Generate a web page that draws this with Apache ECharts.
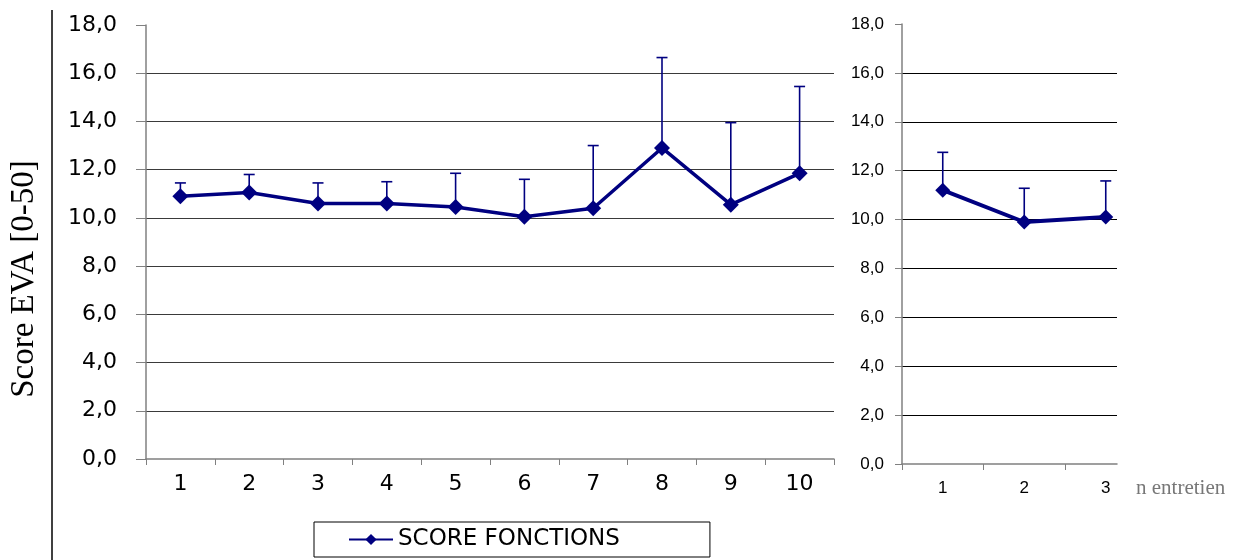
<!DOCTYPE html>
<html>
<head>
<meta charset="utf-8">
<script src="https://cdn.jsdelivr.net/npm/echarts@6/dist/echarts.min.js"></script>
<style>html,body{margin:0;padding:0;background:#fff}#c{width:1240px;height:560px}</style>
</head>
<body>
<div id="c"></div>
<script>
// ---- data ----
const cats1 = ['1','2','3','4','5','6','7','8','9','10'];
const mean1 = [10.9, 11.05, 10.6, 10.6, 10.45, 10.05, 10.4, 12.9, 10.55, 11.85];
const upper1 = [11.45, 11.8, 11.45, 11.5, 11.85, 11.6, 13.0, 16.65, 13.95, 15.45];
const cats2 = ['1','2','3'];
const mean2 = [11.2, 9.9, 10.1];
const upper2 = [12.75, 11.28, 11.58];
const yTicks = [0, 2, 4, 6, 8, 10, 12, 14, 16, 18];
const seriesName = 'SCORE FONCTIONS';
const yTitle = 'Score EVA [0-50]';
const xTitle = 'n entretien';

const NAVY = '#000080';
const fmt = v => v.toFixed(1).replace('.', ',');

const chart = echarts.init(document.getElementById('c'), null, {renderer: 'canvas'});

function errBar(capHalf) {
  return function (params, api) {
    const x = api.value(0);
    const p0 = api.coord([x, api.value(1)]);
    const p1 = api.coord([x, api.value(2)]);
    const st = {stroke: NAVY, lineWidth: 1.6};
    return {type: 'group', children: [
      {type: 'line', shape: {x1: p0[0], y1: p0[1], x2: p1[0], y2: p1[1]}, style: st},
      {type: 'line', shape: {x1: p1[0] - capHalf, y1: p1[1], x2: p1[0] + capHalf, y2: p1[1]}, style: st}
    ]};
  };
}

const ySpecCommon = {
  type: 'value', min: yTicks[0], max: yTicks[yTicks.length - 1], interval: yTicks[1] - yTicks[0],
  axisLine: {show: true, lineStyle: {color: '#808080', width: 1.5}}
};

const option = {
  animation: false,
  backgroundColor: '#fff',
  grid: [
    {left: 146, top: 25, width: 688, height: 434},
    {left: 902, top: 24, width: 215, height: 440}
  ],
  xAxis: [
    {
      type: 'category', gridIndex: 0, data: cats1, boundaryGap: true,
      axisLine: {lineStyle: {color: '#808080', width: 1.5}},
      axisTick: {show: true, length: 6, lineStyle: {color: '#808080'}},
      axisLabel: {color: '#000', fontSize: 22, fontFamily: 'DejaVu Sans', margin: 14}
    },
    {
      type: 'value', gridIndex: 1, min: 0.5, max: 0.5 + 215 / 81.5,
      splitLine: {show: false},
      axisLine: {lineStyle: {color: '#808080', width: 1.5}},
      axisTick: {show: true, length: 6, customValues: [0.5, 1.5, 2.5], lineStyle: {color: '#808080'}},
      axisLabel: {color: '#000', fontSize: 17, fontFamily: 'Liberation Sans', margin: 16,
        customValues: cats2.map((c, i) => i + 1), formatter: v => cats2[Math.round(v) - 1] || ''}
    }
  ],
  yAxis: [
    Object.assign({}, ySpecCommon, {
      gridIndex: 0,
      axisTick: {show: true, length: 10, lineStyle: {color: '#808080'}},
      splitLine: {show: true, showMaxLine: false, showMinLine: false, lineStyle: {color: '#3a3a3a', width: 1}},
      axisLabel: {color: '#000', fontSize: 22, fontFamily: 'DejaVu Sans', margin: 29, formatter: fmt}
    }),
    Object.assign({}, ySpecCommon, {
      gridIndex: 1,
      axisTick: {show: true, length: 7, lineStyle: {color: '#808080'}},
      splitLine: {show: true, showMaxLine: false, showMinLine: false, lineStyle: {color: '#000', width: 1}},
      axisLabel: {color: '#000', fontSize: 17, fontFamily: 'Liberation Sans', margin: 18, formatter: fmt}
    })
  ],
  legend: {
    data: [seriesName], left: 314, top: 522,
    padding: [6, 90, 6, 34], borderColor: '#000', borderWidth: 1,
    itemWidth: 44, itemHeight: 14,
    textStyle: {color: '#000', fontSize: 23, fontFamily: 'DejaVu Sans'}
  },
  series: [
    {
      type: 'custom', xAxisIndex: 0, yAxisIndex: 0, z: 1,
      renderItem: errBar(5.5),
      encode: {x: 0, y: [1, 2]},
      data: cats1.map((c, i) => [i, mean1[i], upper1[i]])
    },
    {
      type: 'custom', xAxisIndex: 1, yAxisIndex: 1, z: 1,
      renderItem: errBar(5.5),
      encode: {x: 0, y: [1, 2]},
      data: cats2.map((c, i) => [i + 1, mean2[i], upper2[i]])
    },
    {
      name: seriesName, type: 'line', xAxisIndex: 0, yAxisIndex: 0, z: 3,
      data: mean1, symbol: 'diamond', symbolSize: 16,
      lineStyle: {color: NAVY, width: 3.5}, itemStyle: {color: NAVY}
    },
    {
      name: seriesName, type: 'line', xAxisIndex: 1, yAxisIndex: 1, z: 3,
      data: cats2.map((c, i) => [i + 1, mean2[i]]), symbol: 'diamond', symbolSize: 15,
      lineStyle: {color: NAVY, width: 4}, itemStyle: {color: NAVY}
    }
  ],
  graphic: [
    {type: 'line', shape: {x1: 52, y1: 10, x2: 52, y2: 560}, style: {stroke: '#000', lineWidth: 1.5}},
    {type: 'text', x: 24, y: 279, rotation: Math.PI / 2,
      style: {text: yTitle, fill: '#000', font: '33px "Liberation Serif"', textAlign: 'center', textVerticalAlign: 'middle'}},
    {type: 'text', x: 1136, y: 488,
      style: {text: xTitle, fill: '#777', font: '21px "Liberation Serif"', textAlign: 'left', textVerticalAlign: 'middle'}}
  ]
};
chart.setOption(option);
</script>
</body>
</html>
